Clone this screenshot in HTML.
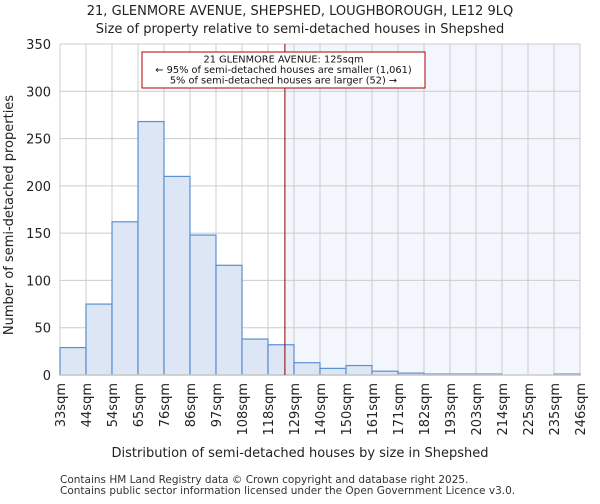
<!DOCTYPE html>
<html><head><meta charset="utf-8"><style>
body{margin:0;background:#fff;font-family:"DejaVu Sans","Liberation Sans",sans-serif}
</style></head><body>
<svg width="600" height="500" xmlns="http://www.w3.org/2000/svg" font-family="DejaVu Sans, Liberation Sans, sans-serif">
<g id="g"></g>
</svg>
<script>
const binLabels=["33sqm","44sqm","54sqm","65sqm","76sqm","86sqm","97sqm","108sqm","118sqm","129sqm","140sqm","150sqm","161sqm","171sqm","182sqm","193sqm","203sqm","214sqm","225sqm","235sqm","246sqm"];
const counts=[29,75,162,268,210,148,116,38,32,13,7,10,4,2,1,1,1,0,0,1];
const yTicks=[0,50,100,150,200,250,300,350];
const markerIndex=8.65;
const X0=60,X1=580,Y0=375,Y1=44,YMAX=350;
const bw=(X1-X0)/counts.length;
const xs=i=>X0+i*bw;
const ys=v=>Y0-(v/YMAX)*(Y0-Y1);
const g=document.getElementById('g');
const NS='http://www.w3.org/2000/svg';
function mk(t,a,txt){const e=document.createElementNS(NS,t);for(const k in a)e.setAttribute(k,a[k]);if(txt!=null)e.textContent=txt;g.appendChild(e);return e;}
const mx=xs(markerIndex);
let e;
e=mk('rect',{x:mx,y:Y1,width:X1-mx,height:Y0-Y1,fill:'#f4f6fd'});


for(const t of yTicks){
 e=mk('line',{x1:X0,x2:X1,y1:ys(t),y2:ys(t),stroke:'#cccccc','stroke-width':1});
 
 
 e=mk('text',{x:X0-9,y:ys(t)+5,'text-anchor':'end','font-size':13,fill:'#222'},t);
 
 
}
binLabels.forEach((l,i)=>{
 e=mk('line',{x1:xs(i),x2:xs(i),y1:Y1,y2:Y0,stroke:'#cccccc','stroke-width':1});
 
 
 const tx=xs(i)+5,ty=Y0+8;
 e=mk('text',{x:tx,y:ty,'text-anchor':'end','font-size':13,fill:'#222',transform:`rotate(-90 ${tx} ${ty})`},l);
 
 
});
counts.forEach((c,i)=>{
 if(c<=0)return;
 e=mk('rect',{x:xs(i),y:ys(c),width:bw,height:Y0-ys(c),fill:'#dce6f4',stroke:'#5b8fd3','stroke-width':1.2});
 
 
});
e=mk('line',{x1:X0,x2:X1,y1:Y0,y2:Y0,stroke:'#cccccc','stroke-width':1.5});


e=mk('line',{x1:mx,x2:mx,y1:Y1,y2:Y0,stroke:'#8b0000','stroke-width':1});


e=mk('rect',{x:142,y:52,width:283,height:36,fill:'#fff',stroke:'#b00000','stroke-width':1});


const ann=["21 GLENMORE AVENUE: 125sqm","← 95% of semi-detached houses are smaller (1,061)","5% of semi-detached houses are larger (52) →"];
ann.forEach((t,i)=>{
 e=mk('text',{x:283.5,y:62.5+i*10.5,'text-anchor':'middle','font-size':9.8,fill:'#111'},t);
 
 
});
e=mk('text',{x:300,y:15,'text-anchor':'middle','font-size':13,fill:'#222'},'21, GLENMORE AVENUE, SHEPSHED, LOUGHBOROUGH, LE12 9LQ');


e=mk('text',{x:300,y:33,'text-anchor':'middle','font-size':13,fill:'#222'},'Size of property relative to semi-detached houses in Shepshed');


e=mk('text',{x:300,y:457,'text-anchor':'middle','font-size':13,fill:'#222'},'Distribution of semi-detached houses by size in Shepshed');


e=mk('text',{x:13,y:215,'text-anchor':'middle','font-size':13,fill:'#222',transform:'rotate(-90 13 215)'},'Number of semi-detached properties');


e=mk('text',{x:60,y:483,'font-size':10.5,fill:'#333'},'Contains HM Land Registry data © Crown copyright and database right 2025.');


e=mk('text',{x:60,y:494,'font-size':10.5,fill:'#333'},'Contains public sector information licensed under the Open Government Licence v3.0.');


</script>
</body></html>
